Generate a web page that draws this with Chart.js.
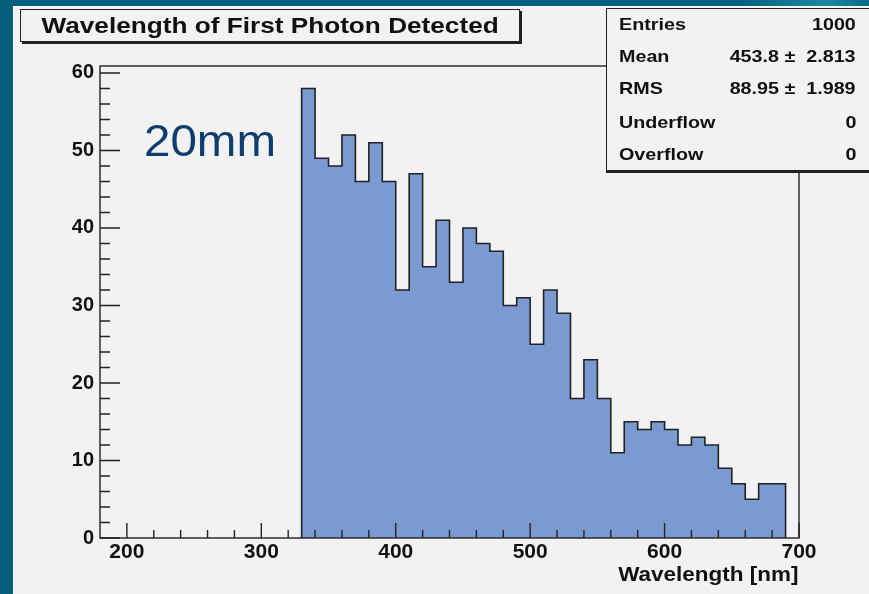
<!DOCTYPE html>
<html>
<head>
<meta charset="utf-8">
<script src="https://cdn.jsdelivr.net/npm/chart.js@4.4.0/dist/chart.umd.min.js"></script>
<style>
  html, body { margin:0; padding:0; }
  body { width:869px; height:594px; position:relative; overflow:hidden; background:#f2f2f2;
         font-family:"Liberation Sans", Arial, Helvetica, sans-serif; }
  #tealLeft { position:absolute; left:0; top:0; width:13px; height:594px; background:#05607b; }
  #tealTop { position:absolute; left:0; top:0; width:869px; height:6px;
             background:linear-gradient(90deg,#05607b 0%,#05607b 85%,#1a8aa0 95%,#0a6a85 100%); }
  #lineLeft { position:absolute; left:13px; top:6px; width:1px; height:588px; background:#fbfbfb; }
  #lineTop { position:absolute; left:13px; top:6px; width:856px; height:1px; background:#fbfbfb; }
  canvas { position:absolute; left:0; top:0; }
  #title { position:absolute; left:20px; top:9px; width:498px; height:31px; border:1px solid #222;
           box-shadow:2px 2px 0 #222; background:#f2f2f2; text-align:center; white-space:nowrap;
           font-weight:bold; font-size:22px; line-height:31px; color:#111; }
  #title span { display:inline-block; transform:scaleX(1.19); transform-origin:center; }
  #stats { position:absolute; left:606px; top:8px; width:280px; height:161px; border:1px solid #222;
           box-shadow:0 2px 0 #222; background:#f2f2f2; }
  .row { position:absolute; left:0; width:262px; height:24px; font-weight:bold; font-size:17px; color:#111; line-height:24px; }
  .row .lab { position:absolute; left:12px; transform:scaleX(1.16); transform-origin:left center; }
  .row .val { position:absolute; right:13px; white-space:pre; transform:scaleX(1.16); transform-origin:right center; }
  #mm { position:absolute; left:144px; top:119px; font-size:44px; line-height:44px; color:#0e3d6e;
        transform:scaleX(1.08); transform-origin:left center; }
  #xtitle { position:absolute; right:71px; top:561px; font-size:21px; line-height:26px; font-weight:bold; color:#111; white-space:nowrap;
            transform:scaleX(1.07); transform-origin:right center; }
</style>
</head>
<body>
<div id="tealLeft"></div>
<div id="tealTop"></div>
<div id="lineLeft"></div>
<div id="lineTop"></div>
<canvas id="c" width="869" height="594"></canvas>
<div id="title"><span>Wavelength of First Photon Detected</span></div>
<div id="stats"></div>
<div id="mm">20mm</div>
<div id="xtitle">Wavelength [nm]</div>
<script>
// ---- data ----
const binEdges = [330,340,350,360,370,380,390,400,410,420,430,440,450,460,470,480,490,500,510,520,
                  530,540,550,560,570,580,590,600,610,620,630,640,650,660,670,680,690];
const counts = [58,49,48,52,46,51,46,32,47,35,
                41,33,40,38,37,30,31,25,32,29,
                18,23,18,11,15,14,15,14,12,13,
                12,9,7,5,7,7];
const xMajorTicks = [200,300,400,500,600,700];
const xMinorTicks = [200,220,240,260,280,300,320,340,360,380,400,420,440,460,480,500,520,540,560,580,600,620,640,660,680,700];
const yMajorTicks = [0,10,20,30,40,50,60];
const yMinorTicks = [0,2,4,6,8,10,12,14,16,18,20,22,24,26,28,30,32,34,36,38,40,42,44,46,48,50,52,54,56,58,60];
const xRange = [180, 700];
const yRange = [0, 60.9];
const statLabels = ["Entries","Mean","RMS","Underflow","Overflow"];
const statValues = ["1000","453.8 \u00b1  2.813","88.95 \u00b1  1.989","0","0"];
const plotTitle = "Wavelength of First Photon Detected";
const xAxisTitle = "Wavelength [nm]";
const annotation = "20mm";

// ---- stats box ----
const statsEl = document.getElementById('stats');
const rowTops = [4, 36, 68, 102, 134];
statLabels.forEach((l, i) => {
  const r = document.createElement('div');
  r.className = 'row';
  r.style.top = rowTops[i] + 'px';
  r.innerHTML = '<span class="lab"></span><span class="val"></span>';
  r.querySelector('.lab').textContent = l;
  r.querySelector('.val').textContent = statValues[i];
  statsEl.appendChild(r);
});
document.querySelector('#title span').textContent = plotTitle;
document.getElementById('xtitle').textContent = xAxisTitle;
document.getElementById('mm').textContent = annotation;

// ---- histogram points built from edges & counts ----
const pts = [{x: binEdges[0], y: 0}];
counts.forEach((c, i) => pts.push({x: binEdges[i], y: c}));
pts.push({x: binEdges[binEdges.length - 1], y: 0});

const frameTicks = {
  id: 'frameTicks',
  afterDatasetsDraw(chart) {
    const {ctx, chartArea: a, scales: {x, y}} = chart;
    ctx.save();
    ctx.strokeStyle = '#222';
    ctx.lineWidth = 1.4;
    ctx.strokeRect(a.left, a.top, a.right - a.left, a.bottom - a.top);
    ctx.beginPath();
    xMinorTicks.forEach(v => { const p = x.getPixelForValue(v); ctx.moveTo(p, a.bottom); ctx.lineTo(p, a.bottom - 8); });
    xMajorTicks.forEach(v => { const p = x.getPixelForValue(v); ctx.moveTo(p, a.bottom); ctx.lineTo(p, a.bottom - 15); });
    yMinorTicks.forEach(v => { const p = y.getPixelForValue(v); ctx.moveTo(a.left, p); ctx.lineTo(a.left + 10, p); });
    yMajorTicks.forEach(v => { const p = y.getPixelForValue(v); ctx.moveTo(a.left, p); ctx.lineTo(a.left + 20, p); });
    ctx.stroke();
    ctx.restore();
  }
};

const tickFontX = {family: '"Liberation Sans", Arial, sans-serif', size: 21, weight: 'bold'};
const tickFontY = {family: '"Liberation Sans", Arial, sans-serif', size: 20, weight: 'bold'};

new Chart(document.getElementById('c'), {
  type: 'line',
  data: {
    datasets: [{
      data: pts,
      stepped: 'before',
      fill: 'origin',
      backgroundColor: '#7b9ad2',
      borderColor: '#222',
      borderWidth: 1.6,
      pointRadius: 0,
      tension: 0
    }]
  },
  options: {
    responsive: false,
    animation: false,
    events: [],
    layout: {padding: {left: 0, top: 66, right: 70, bottom: 0}},
    plugins: {legend: {display: false}, tooltip: {enabled: false}, title: {display: false}},
    scales: {
      x: {
        type: 'linear', min: xRange[0], max: xRange[1],
        grid: {display: false, drawTicks: false},
        border: {display: false},
        ticks: {font: tickFontX, color: '#111', padding: 2, maxRotation: 0, autoSkip: false},
        afterBuildTicks: s => { s.ticks = xMajorTicks.map(v => ({value: v})); },
        afterFit: s => { s.height = 56; }
      },
      y: {
        type: 'linear', min: yRange[0], max: yRange[1],
        grid: {display: false, drawTicks: false},
        border: {display: false},
        ticks: {font: tickFontY, color: '#111', padding: 6, autoSkip: false},
        afterBuildTicks: s => { s.ticks = yMajorTicks.map(v => ({value: v})); },
        afterFit: s => { s.width = 100; }
      }
    }
  },
  plugins: [frameTicks]
});
</script>
</body>
</html>
